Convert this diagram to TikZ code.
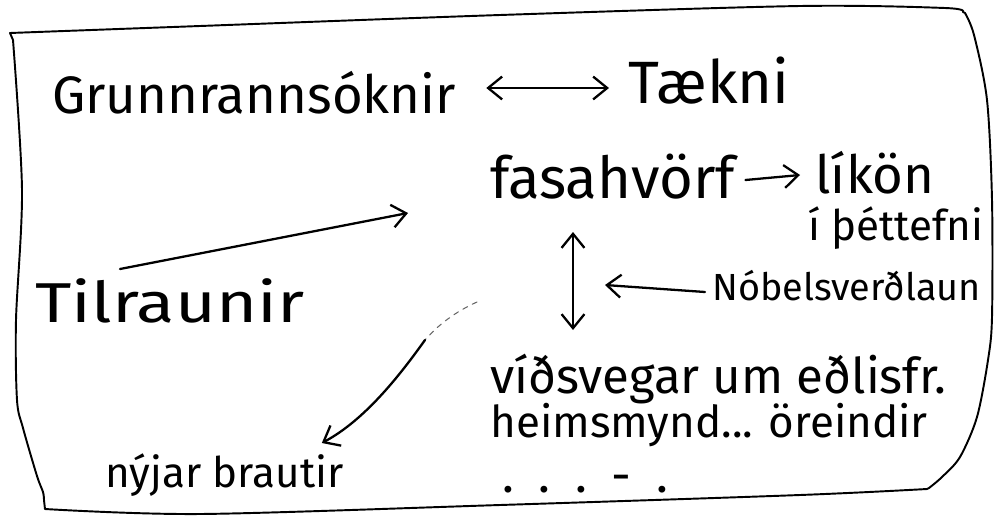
\documentclass[tikz,border=0pt]{standalone}
\usepackage{fontspec}
\usepackage{graphicx}
\setmainfont{Fira Sans}
\usetikzlibrary{arrows.meta,calc}
\begin{document}
\begin{tikzpicture}[x=0.2mm,y=-0.2mm, line cap=round, line join=round,
  >={Straight Barb[length=8pt,width=13pt]},
  frame/.style={line width=1.1pt},
  lbl/.style={inner sep=0pt, anchor=base west},
  conn/.style={line width=1.3pt},
  faint/.style={line width=0.6pt, dash pattern=on 3pt off 3pt, black!60}]
\useasboundingbox (0,0) rectangle (1000,517);
% frame
\draw[frame] plot[smooth, tension=0.5] coordinates {(10,33) (200,26) (500,15) (800,6) (945,8) (963,12)}
 -- plot[smooth, tension=0.5] coordinates {(965,13) (974,35) (987,100) (992,200) (992,317) (988,360) (977,417) (960,457) (942,477) (929,488)}
 -- plot[smooth, tension=0.5] coordinates {(927,489) (800,495) (500,505) (200,514) (45,509)}
 -- plot[smooth, tension=0.5] coordinates {(44,500) (43,492) (37,476) (23,428) (17,400) (16,320) (22,190) (13,40)} -- cycle;
% texts
\node[lbl, font=\fontsize{30}{36}\selectfont] (grunn) at (52,113) {Grunnrannsóknir};
\node[lbl, font=\fontsize{34}{40}\selectfont] (taekni) at (628,103) {Tækni};
\node[lbl, font=\fontsize{33}{38}\selectfont] (fasa) at (490,198) {fasahvörf};
\node[lbl, font=\fontsize{30}{36}\selectfont] (likon) at (815,193) {líkön};
\node[lbl, font=\fontsize{24}{30}\selectfont] (thett) at (808,240) {í þéttefni};
\node[lbl, font=\fontsize{21.5}{26}\selectfont] (nobel) at (712,300) {Nóbelsverðlaun};
\node[lbl, font=\fontsize{32}{36}\selectfont] (tilr) at (35,322) {\scalebox{1.25}[1]{Tilraunir}};
\node[lbl, font=\fontsize{24}{28}\selectfont] (nyj) at (105,487) {nýjar brautir};
\node[lbl, font=\fontsize{28}{32}\selectfont] (vids) at (490,393) {víðsvegar um eðlisfr.};
\node[lbl, font=\fontsize{25}{30}\selectfont] (heims) at (490,437) {heimsmynd... öreindir};
\node[lbl, font=\fontsize{28}{32}\selectfont] (dots) at (502,492) {.\hspace{14pt}.\hspace{14pt}.\hspace{14pt}-\hspace{14pt}.};
% connectors
\draw[conn, <->] ($(grunn.base east)+(30,-25)$) -- ($(taekni.base west)+(-19,-15)$);
\draw[conn, ->] ($(fasa.base east)+(10,-18)$) -- ($(likon.base west)+(-15,-18)$);
\draw[conn, ->] ($(tilr.base west)+(85,-53)$) -- ($(fasa.base west)+(-82,15)$);
\coordinate (nobtip) at (605,285);
\draw[conn, ->] ($(nobel.base west)+(-7,-8)$) -- (nobtip);
\draw[conn, <->] ($(fasa.base west)+(83,34)$) -- ($(vids.base west)+(83,-63)$);
\coordinate (cstart) at (477,302);
\coordinate (cmid) at (425,340);
\draw[faint] (cstart) .. controls (455,312) and (438,325) .. (cmid);
\draw[conn, ->] (cmid) .. controls (400,375) and (365,420) .. ($(nyj.base east)+(-22,-44)$);
\end{tikzpicture}
\end{document}
